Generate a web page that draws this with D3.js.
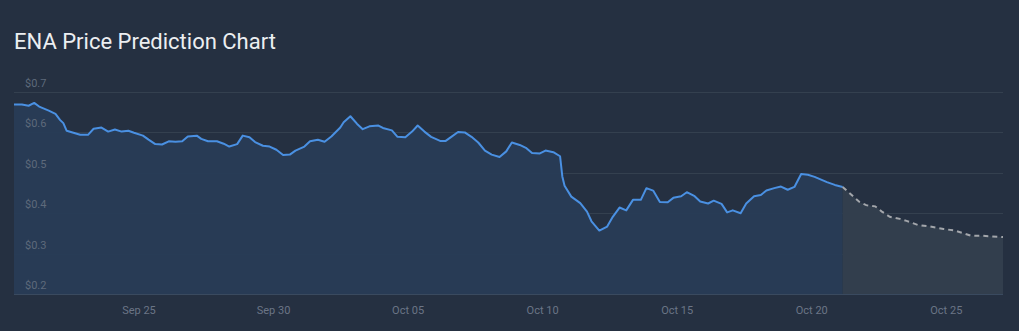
<!DOCTYPE html>
<html>
<head>
<meta charset="utf-8">
<title>ENA Price Prediction Chart</title>
<script src="https://d3js.org/d3.v7.min.js"></script>
<style>
  html, body { margin: 0; padding: 0; background: #253041; }
  svg { display: block; }
</style>
</head>
<body>
<div id="chart"></div>
<script>
// historical prices
var histDates = [
  "2025-09-20T09:00","2025-09-20T16:00","2025-09-20T22:00","2025-09-21T03:00","2025-09-21T08:00",
  "2025-09-21T16:00","2025-09-21T22:00","2025-09-22T02:00","2025-09-22T05:00","2025-09-22T08:00",
  "2025-09-22T14:00","2025-09-22T20:00","2025-09-23T03:00","2025-09-23T08:00","2025-09-23T15:00",
  "2025-09-23T21:00","2025-09-24T03:00","2025-09-24T09:00","2025-09-24T15:00","2025-09-24T20:00",
  "2025-09-25T04:00","2025-09-25T09:00","2025-09-25T15:00","2025-09-25T21:00","2025-09-26T03:00",
  "2025-09-26T09:00","2025-09-26T15:00","2025-09-26T20:00","2025-09-27T04:00","2025-09-27T08:00",
  "2025-09-27T14:00","2025-09-27T22:00","2025-09-28T04:00","2025-09-28T09:00","2025-09-28T16:00",
  "2025-09-28T21:00","2025-09-29T03:00","2025-09-29T08:00","2025-09-29T15:00","2025-09-29T21:00",
  "2025-09-30T03:00","2025-09-30T09:00","2025-09-30T15:00","2025-09-30T20:00","2025-10-01T04:00",
  "2025-10-01T09:00","2025-10-01T16:00","2025-10-01T22:00","2025-10-02T04:00","2025-10-02T12:00",
  "2025-10-02T15:00","2025-10-02T21:00","2025-10-03T03:00","2025-10-03T08:00","2025-10-03T14:00",
  "2025-10-03T22:00","2025-10-04T02:00","2025-10-04T10:00","2025-10-04T15:00","2025-10-04T22:00",
  "2025-10-05T04:00","2025-10-05T09:00","2025-10-05T15:00","2025-10-05T21:00","2025-10-06T05:00",
  "2025-10-06T10:00","2025-10-06T15:00","2025-10-06T21:00","2025-10-07T03:00","2025-10-07T09:00",
  "2025-10-07T15:00","2025-10-07T21:00","2025-10-08T03:00","2025-10-08T10:00","2025-10-08T16:00",
  "2025-10-08T21:00","2025-10-09T04:00","2025-10-09T10:00","2025-10-09T15:00","2025-10-09T22:00",
  "2025-10-10T03:00","2025-10-10T10:00","2025-10-10T16:00","2025-10-10T18:00","2025-10-10T20:00",
  "2025-10-11T02:00","2025-10-11T10:00","2025-10-11T16:00","2025-10-11T20:00","2025-10-12T03:00",
  "2025-10-12T10:00","2025-10-12T15:00","2025-10-12T21:00","2025-10-13T03:00","2025-10-13T09:00",
  "2025-10-13T16:00","2025-10-13T21:00","2025-10-14T03:00","2025-10-14T09:00","2025-10-14T16:00",
  "2025-10-14T21:00","2025-10-15T04:00","2025-10-15T09:00","2025-10-15T16:00","2025-10-15T21:00",
  "2025-10-16T04:00","2025-10-16T09:00","2025-10-16T16:00","2025-10-16T21:00","2025-10-17T02:00",
  "2025-10-17T09:00","2025-10-17T14:00","2025-10-17T21:00","2025-10-18T03:00","2025-10-18T08:00",
  "2025-10-18T15:00","2025-10-18T21:00","2025-10-19T03:00","2025-10-19T09:00","2025-10-19T15:00",
  "2025-10-19T21:00","2025-10-20T03:00","2025-10-20T14:00","2025-10-20T21:00","2025-10-21T04:00"
];
var histPrices = [
  0.669,0.669,0.666,0.673,0.663,
  0.654,0.646,0.631,0.623,0.604,
  0.599,0.594,0.594,0.609,0.612,
  0.602,0.607,0.602,0.604,0.599,
  0.592,0.582,0.571,0.570,0.578,
  0.577,0.578,0.590,0.592,0.584,
  0.578,0.578,0.572,0.565,0.571,
  0.592,0.588,0.576,0.567,0.565,
  0.557,0.544,0.545,0.555,0.565,
  0.578,0.582,0.577,0.590,0.612,
  0.625,0.640,0.621,0.608,0.615,
  0.617,0.611,0.605,0.589,0.588,
  0.602,0.617,0.602,0.589,0.579,
  0.579,0.589,0.601,0.600,0.589,
  0.575,0.555,0.545,0.539,0.553,
  0.575,0.569,0.561,0.549,0.548,
  0.555,0.551,0.541,0.491,0.468,
  0.441,0.425,0.404,0.380,0.357,
  0.367,0.391,0.414,0.407,0.433,
  0.433,0.462,0.456,0.428,0.427,
  0.438,0.442,0.452,0.442,0.429,
  0.424,0.431,0.423,0.402,0.407,
  0.400,0.424,0.442,0.445,0.456,
  0.462,0.466,0.458,0.465,0.497,
  0.495,0.490,0.477,0.470,0.465
];

// predicted prices
var predDates = [
  "2025-10-21T04:00","2025-10-21T10:00","2025-10-21T19:00","2025-10-22T01:00","2025-10-22T09:00",
  "2025-10-22T15:00","2025-10-22T22:00","2025-10-23T07:00","2025-10-23T13:00","2025-10-23T23:00",
  "2025-10-24T10:00","2025-10-24T22:00","2025-10-25T08:00","2025-10-25T15:00","2025-10-25T23:00",
  "2025-10-26T09:00","2025-10-27T03:00"
];
var predPrices = [
  0.465,0.450,0.428,0.420,0.417,
  0.404,0.391,0.386,0.381,0.371,
  0.367,0.361,0.357,0.351,0.344,
  0.344,0.341
];

var yTicks = [0.2, 0.3, 0.4, 0.5, 0.6, 0.7];
var xTickDates = ["2025-09-25","2025-09-30","2025-10-05","2025-10-10","2025-10-15","2025-10-20","2025-10-25"];

var W = 1019, H = 331;
var margin = {top: 92, right: 16, bottom: 37, left: 14};
var width = W - margin.left - margin.right,
    height = H - margin.top - margin.bottom;

var parse = d3.timeParse("%Y-%m-%dT%H:%M");
var parseDay = d3.timeParse("%Y-%m-%d");

var hist = histDates.map(function(d, i) { return {date: parse(d), price: histPrices[i]}; });
var pred = predDates.map(function(d, i) { return {date: parse(d), price: predPrices[i]}; });

var svg = d3.select("#chart").append("svg")
    .attr("width", W)
    .attr("height", H);

svg.append("text")
    .attr("x", 14)
    .attr("y", 49)
    .attr("font-family", "Roboto, sans-serif")
    .attr("font-size", "22px")
    .attr("fill", "#eceef1")
    .text("ENA Price Prediction Chart");

var g = svg.append("g")
    .attr("transform", `translate(${margin.left}, ${margin.top})`);

var x = d3.scaleTime()
    .domain([hist[0].date, pred[pred.length - 1].date])
    .range([0, width]);

var y = d3.scaleLinear()
    .domain([0.2, 0.7])
    .range([height, 0]);

// grid lines
g.append("g")
  .selectAll("line")
  .data(yTicks)
  .enter().append("line")
    .attr("x1", 0)
    .attr("x2", width)
    .attr("y1", function(d) { return Math.round(y(d)) + 0.5; })
    .attr("y2", function(d) { return Math.round(y(d)) + 0.5; })
    .attr("stroke", function(d) { return d === 0.2 ? "#3a4a5f" : "#34404f"; })
    .attr("stroke-width", 1);

var area = d3.area()
    .x(function(d) { return x(d.date); })
    .y0(height)
    .y1(function(d) { return y(d.price); });

var line = d3.line()
    .x(function(d) { return x(d.date); })
    .y(function(d) { return y(d.price); });

g.append("path")
    .datum(hist)
    .attr("d", area)
    .attr("fill", "#283c56")
    .attr("fill-opacity", 0.95);

g.append("path")
    .datum(pred)
    .attr("d", area)
    .attr("fill", "#323e4d");

// y labels
g.append("g")
  .selectAll("text")
  .data(yTicks)
  .enter().append("text")
    .attr("x", 11)
    .attr("y", function(d) { return y(d) - 5; })
    .attr("font-family", "Roboto, sans-serif")
    .attr("font-size", "11px")
    .attr("fill", "#5e6a7b")
    .text(function(d) { return "$" + d3.format(".1f")(d); });

g.append("path")
    .datum(hist)
    .attr("d", line)
    .attr("fill", "none")
    .attr("stroke", "#4a90e2")
    .attr("stroke-width", 2)
    .attr("stroke-linejoin", "round");

g.append("path")
    .datum(pred)
    .attr("d", line)
    .attr("fill", "none")
    .attr("stroke", "#a3a6ab")
    .attr("stroke-width", 2)
    .attr("stroke-dasharray", "5,4");

// x axis
var xAxis = g.append("g")
    .attr("transform", `translate(0, ${height})`)
    .call(d3.axisBottom(x)
      .tickValues(xTickDates.map(parseDay))
      .tickFormat(d3.timeFormat("%b %d"))
      .tickSize(0)
      .tickPadding(12));
xAxis.select(".domain").remove();
xAxis.selectAll("text")
    .attr("font-family", "Roboto, sans-serif")
    .attr("font-size", "11px")
    .attr("fill", "#6b7586");
</script>
</body>
</html>
